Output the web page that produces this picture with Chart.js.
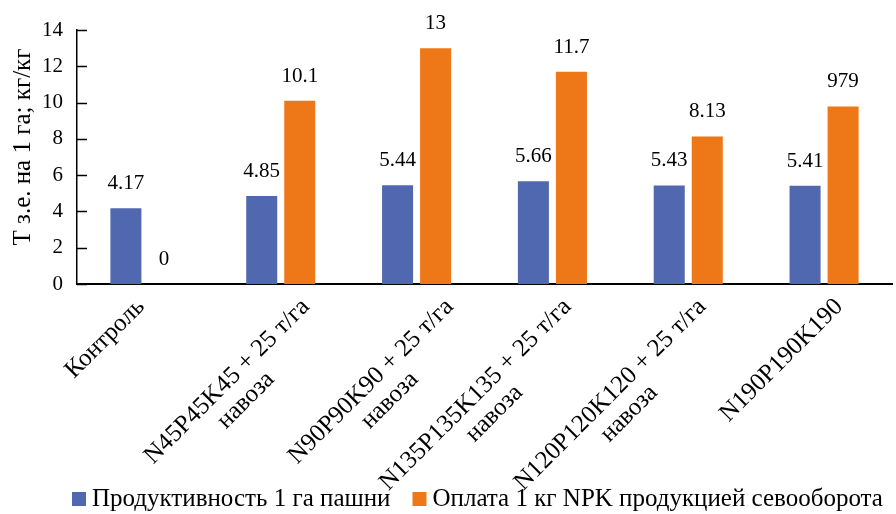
<!DOCTYPE html>
<html>
<head>
<meta charset="utf-8">
<script src="https://cdn.jsdelivr.net/npm/chart.js@4.4.0/dist/chart.umd.min.js"></script>
<style>
  html, body { margin: 0; padding: 0; background: #ffffff; }
  #wrap { width: 896px; height: 514px; }
</style>
</head>
<body>
<div id="wrap"><canvas id="chart" width="896" height="514"></canvas></div>
<script>
// Fertiliser variants (multi-line category labels)
const categories = [
  ["Контроль"],
  ["N45P45K45 + 25 т/га", "навоза"],
  ["N90P90K90 + 25 т/га", "навоза"],
  ["N135P135K135 + 25 т/га", "навоза"],
  ["N120P120K120 + 25 т/га", "навоза"],
  ["N190P190K190"]
];

// Series values
const productivity = [4.17, 4.85, 5.44, 5.66, 5.43, 5.41];
const npkPayback = [0, 10.1, 13, 11.7, 8.13, 9.79];

// Value labels printed above the bars
const productivityLabels = ["4.17", "4.85", "5.44", "5.66", "5.43", "5.41"];
const npkPaybackLabels = ["0", "10.1", "13", "11.7", "8.13", "979"];

// Y axis ticks
const yTicks = [0, 2, 4, 6, 8, 10, 12, 14];

const seriesNames = ["Продуктивность 1 га пашни", "Оплата 1 кг NPK продукцией севооборота"];
const yTitle = "Т з.е. на 1 га; кг/кг";

// ---- styling ----
const FONT = "'Liberation Serif', 'Times New Roman', serif";
const BLUE = "#5068b0";
const ORANGE = "#ee7717";
const TEXT = "#000000";
const SMALL = 21;   // tick and value labels
const LARGE = 25;   // axis title, category labels, legend
const tickLabelShift = [-4, 25, 33, 15, 14, 15];

// Short tick marks drawn on the inner side of the value axis
const innerTicks = {
  id: "innerTicks",
  afterDraw(chart) {
    const y = chart.scales.y;
    const ctx = chart.ctx;
    ctx.save();
    ctx.strokeStyle = TEXT;
    ctx.lineWidth = 1.5;
    yTicks.forEach(v => {
      const py = Math.round(y.getPixelForValue(v)) + 0.5;
      ctx.beginPath();
      ctx.moveTo(chart.chartArea.left, py);
      ctx.lineTo(chart.chartArea.left + 10, py);
      ctx.stroke();
    });
    ctx.restore();
  }
};

// Rotated category labels, continuation lines centred under the first line
const categoryLabels = {
  id: "categoryLabels",
  afterDraw(chart) {
    const xs = chart.scales.x;
    const ctx = chart.ctx;
    const lh = 26.5;
    ctx.save();
    ctx.fillStyle = TEXT;
    ctx.font = LARGE + "px " + FONT;
    categories.forEach((lines, i) => {
      const x = xs.getPixelForValue(i) + tickLabelShift[i];
      ctx.save();
      ctx.translate(x, xs.top + 19);
      ctx.rotate(-Math.PI / 4);
      ctx.textBaseline = "middle";
      const w0 = ctx.measureText(lines[0]).width;
      lines.forEach((ln, k) => {
        if (k === 0) {
          ctx.textAlign = "right";
          ctx.fillText(ln, 0, 0);
        } else {
          ctx.textAlign = "center";
          ctx.fillText(ln, -w0 / 2, k * lh);
        }
      });
      ctx.restore();
    });
    ctx.restore();
  }
};

// Value labels above each bar
const valueLabels = {
  id: "valueLabels",
  afterDatasetsDraw(chart) {
    const ctx = chart.ctx;
    const texts = [productivityLabels, npkPaybackLabels];
    ctx.save();
    ctx.fillStyle = TEXT;
    ctx.font = SMALL + "px " + FONT;
    ctx.textAlign = "center";
    ctx.textBaseline = "alphabetic";
    chart.data.datasets.forEach((ds, di) => {
      chart.getDatasetMeta(di).data.forEach((bar, i) => {
        ctx.fillText(texts[di][i], bar.x, bar.y - 19);
      });
    });
    ctx.restore();
  }
};

// Vertical axis title
const axisTitle = {
  id: "axisTitle",
  afterDraw(chart) {
    const ctx = chart.ctx;
    ctx.save();
    ctx.fillStyle = TEXT;
    ctx.font = LARGE + "px " + FONT;
    ctx.translate(30, 147);
    ctx.rotate(-Math.PI / 2);
    ctx.textAlign = "center";
    ctx.textBaseline = "alphabetic";
    ctx.fillText(yTitle, 0, 0);
    ctx.restore();
  }
};

// Legend row under the category labels
const legendRow = {
  id: "legendRow",
  afterDraw(chart) {
    const ctx = chart.ctx;
    const colors = chart.data.datasets.map(d => d.backgroundColor);
    ctx.save();
    ctx.font = LARGE + "px " + FONT;
    ctx.textBaseline = "alphabetic";
    ctx.textAlign = "left";
    let x = 72;
    chart.data.datasets.forEach((ds, i) => {
      ctx.fillStyle = colors[i];
      ctx.fillRect(x, 492, 14, 14);
      ctx.fillStyle = TEXT;
      ctx.fillText(ds.label, x + 20, 506);
      x += 20 + ctx.measureText(ds.label).width + 22;
    });
    ctx.restore();
  }
};

new Chart(document.getElementById("chart"), {
  type: "bar",
  data: {
    labels: categories,
    datasets: [
      { label: seriesNames[0], data: productivity, backgroundColor: BLUE },
      { label: seriesNames[1], data: npkPayback, backgroundColor: ORANGE }
    ]
  },
  options: {
    responsive: false,
    devicePixelRatio: 1,
    animation: false,
    layout: { padding: { top: 30, right: 4, left: 0, bottom: 0 } },
    datasets: { bar: { barPercentage: 0.816, categoryPercentage: 0.56 } },
    scales: {
      x: {
        grid: { display: false, drawTicks: false },
        border: { display: true, color: TEXT, width: 2 },
        ticks: { display: false },
        afterFit(scale) { scale.height = 230; }
      },
      y: {
        min: 0,
        max: 14,
        afterBuildTicks(scale) { scale.ticks = yTicks.map(v => ({ value: v })); },
        grid: { display: false, drawTicks: false },
        border: { display: true, color: TEXT, width: 1.5 },
        ticks: { color: TEXT, font: { family: FONT, size: SMALL }, padding: 14 },
        afterFit(scale) { scale.width = 77; }
      }
    },
    plugins: {
      legend: { display: false },
      tooltip: { enabled: false }
    }
  },
  plugins: [innerTicks, categoryLabels, valueLabels, axisTitle, legendRow]
});
</script>
</body>
</html>
